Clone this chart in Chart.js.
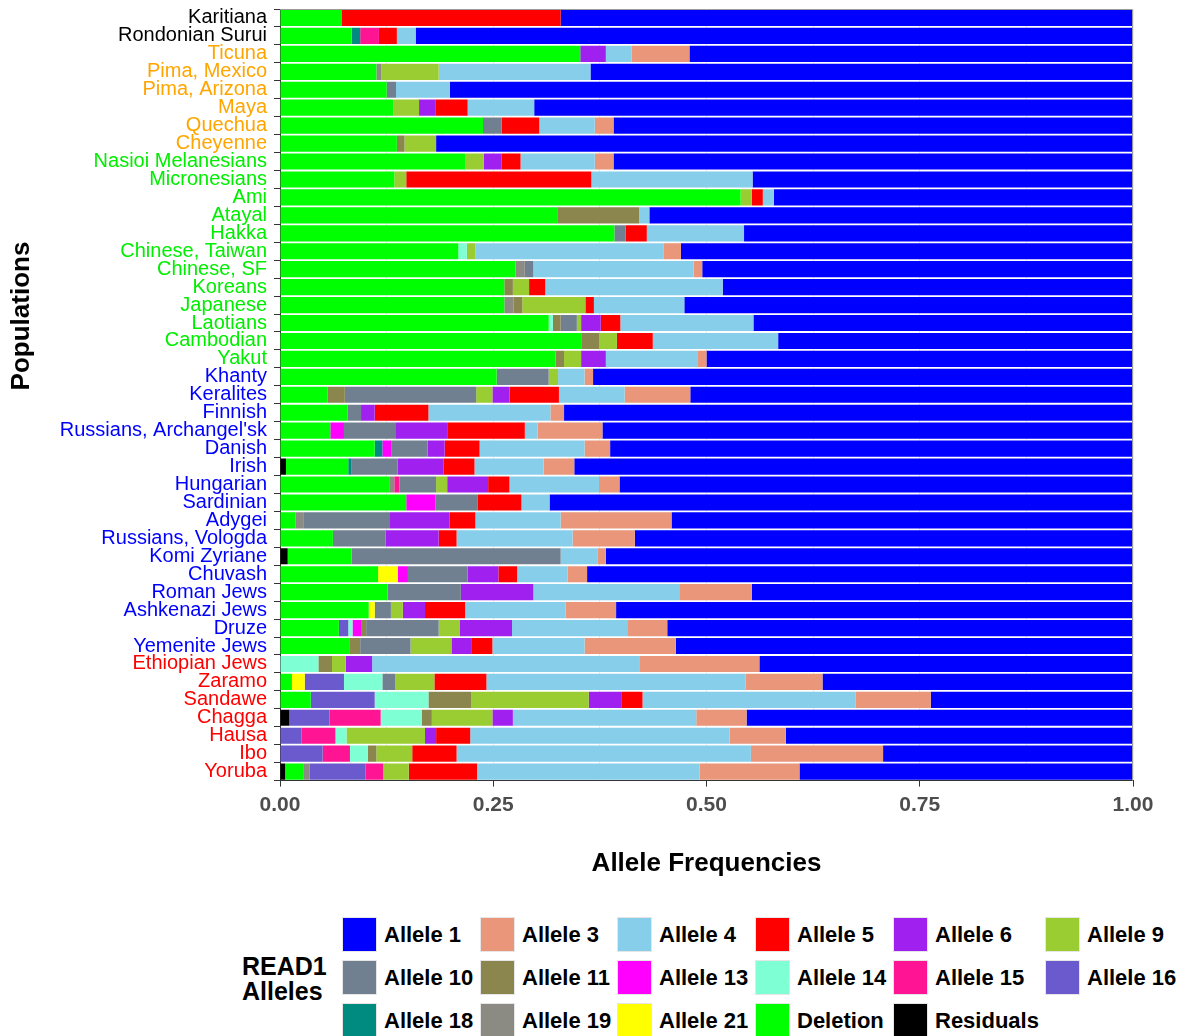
<!DOCTYPE html>
<html>
<head>
<meta charset="utf-8">
<script src="https://cdn.jsdelivr.net/npm/chart.js@4"></script>
<style>
	body { margin: 0; background: #fff; font-family: 'Liberation Sans', Arial, sans-serif; }
	#wrap { position: relative; width: 1180px; height: 1036px; overflow: hidden; }
	#chart { position: absolute; left: 0; top: 0; }
	#legendTitle { position: absolute; left: 242px; top: 954px; font-weight: bold; font-size: 25px; line-height: 25px; color: #000; }
	#legend { position: absolute; left: 342px; top: 917px; display: grid;
		grid-template-columns: 138px 137px 138px 138px 152px 135px; grid-auto-rows: 43px; }
	.item { display: flex; align-items: center; height: 35px; white-space: nowrap; }
	.box { width: 33px; height: 33px; border: 1px solid #e6e6e6; margin-right: 7px; flex: none; }
	.lbl { font-weight: bold; font-size: 22px; color: #000; }
</style>
</head>
<body>
<div id="wrap">
	<canvas id="chart" width="1180" height="879"></canvas>
	<div id="legendTitle">READ1<br>Alleles</div>
	<div id="legend"></div>
</div>
<script>
// Populations, top to bottom
let populations = [
	'Karitiana', 'Rondonian Surui', 'Ticuna', 'Pima, Mexico', 'Pima, Arizona', 'Maya', 'Quechua', 'Cheyenne',
	'Nasioi Melanesians', 'Micronesians', 'Ami', 'Atayal', 'Hakka', 'Chinese, Taiwan', 'Chinese, SF', 'Koreans',
	'Japanese', 'Laotians', 'Cambodian', 'Yakut', 'Khanty', 'Keralites', 'Finnish', "Russians, Archangel'sk",
	'Danish', 'Irish', 'Hungarian', 'Sardinian', 'Adygei', 'Russians, Vologda', 'Komi Zyriane', 'Chuvash',
	'Roman Jews', 'Ashkenazi Jews', 'Druze', 'Yemenite Jews', 'Ethiopian Jews', 'Zaramo', 'Sandawe', 'Chagga',
	'Hausa', 'Ibo', 'Yoruba'
];

// Region of each population (label colour)
let regions = [
	'other', 'other', 'america', 'america', 'america', 'america', 'america', 'america',
	'pacific', 'pacific', 'pacific', 'pacific', 'pacific', 'pacific', 'pacific', 'pacific',
	'pacific', 'pacific', 'pacific', 'pacific', 'europe', 'europe', 'europe', 'europe',
	'europe', 'europe', 'europe', 'europe', 'europe', 'europe', 'europe', 'europe',
	'europe', 'europe', 'europe', 'europe', 'africa', 'africa', 'africa', 'africa',
	'africa', 'africa', 'africa'
];

// Allele frequencies, one value per population
let residuals = [0,0,0,0,0,0,0,0,0,0, 0,0,0,0,0,0,0,0,0,0, 0,0,0,0,0,0.007,0,0,0,0, 0.009,0,0,0,0,0,0,0,0,0.011, 0,0,0.006];
let deletion = [0.072,0.084,0.352,0.113,0.125,0.133,0.238,0.137,0.217,0.134, 0.540,0.325,0.392,0.209,0.276,0.263,0.263,0.315,0.354,0.323, 0.254,0.056,0.079,0.059,0.111,0.073,0.128,0.148,0.018,0.062, 0.075,0.115,0.126,0.104,0.069,0.082,0,0.014,0.036,0, 0,0,0.022];
let allele21 = [0,0,0,0,0,0,0,0,0,0, 0,0,0,0,0,0,0,0,0,0, 0,0,0,0,0,0,0,0,0,0, 0,0.023,0,0.007,0,0,0,0.015,0,0, 0,0,0];
let allele19 = [0,0,0,0.006,0,0,0,0,0,0, 0,0,0,0,0.011,0,0.011,0,0,0, 0,0,0,0,0,0,0.006,0,0.010,0, 0,0,0,0,0,0,0,0,0,0, 0,0,0.007];
let allele18 = [0,0.010,0,0,0,0,0,0,0,0, 0,0,0,0,0,0,0,0,0,0, 0,0,0,0,0.009,0.004,0,0,0,0, 0,0,0,0,0,0,0,0,0,0, 0,0,0];
let allele16 = [0,0,0,0,0,0,0,0,0,0, 0,0,0,0,0,0,0,0,0,0, 0,0,0,0,0,0,0,0,0,0, 0,0,0,0,0.011,0,0,0.046,0.075,0.047, 0.025,0.050,0.065];
let allele15 = [0,0.022,0,0,0,0,0,0,0,0, 0,0,0,0,0,0,0,0,0,0, 0,0,0,0,0,0,0.006,0,0,0, 0,0,0,0,0,0,0,0,0,0.060, 0.040,0.032,0.021];
let allele14 = [0,0,0,0,0,0,0,0,0,0, 0,0,0,0.010,0,0,0,0.005,0,0, 0,0,0,0,0,0,0,0,0,0, 0,0,0,0,0.005,0,0.045,0.045,0.063,0.048, 0.013,0.021,0];
let allele13 = [0,0,0,0,0,0,0,0,0,0, 0,0,0,0,0,0,0,0,0,0, 0,0,0,0.016,0.011,0,0,0.034,0,0, 0,0.012,0,0,0.010,0,0,0,0,0, 0,0,0];
let allele11 = [0,0,0,0,0,0,0,0.009,0,0, 0,0.096,0,0,0,0.010,0.010,0.009,0.020,0.010, 0,0.020,0,0,0,0,0,0,0,0, 0,0,0,0,0.006,0.012,0.016,0,0.050,0.012, 0,0.010,0];
let allele10 = [0,0,0,0,0.011,0,0.022,0,0,0, 0,0,0.013,0,0.010,0,0,0.019,0,0, 0.061,0.154,0.016,0.061,0.042,0.054,0.043,0.050,0.100,0.062, 0.245,0.070,0.086,0.019,0.085,0.059,0,0.015,0,0, 0,0,0];
let allele9 = [0,0,0,0.067,0,0.030,0,0.037,0.022,0.014, 0.013,0,0,0.010,0,0.019,0.074,0.005,0.021,0.020, 0.011,0.019,0,0,0,0,0.013,0,0,0, 0,0,0,0.014,0.025,0.048,0.016,0.046,0.138,0.071, 0.092,0.042,0.030];
let allele6 = [0,0,0.030,0,0,0.019,0,0,0.021,0, 0,0,0,0,0,0,0,0.023,0,0.029, 0,0.020,0.016,0.060,0.020,0.054,0.048,0,0.071,0.062, 0,0.036,0.085,0.026,0.061,0.024,0.031,0,0.038,0.024, 0.013,0,0];
let allele5 = [0.257,0.021,0,0,0,0.038,0.044,0,0.022,0.217, 0.013,0,0.025,0,0,0.019,0.010,0.023,0.042,0, 0,0.058,0.063,0.091,0.041,0.036,0.025,0.051,0.030,0.021, 0,0.022,0,0.047,0,0.024,0,0.061,0.025,0, 0.040,0.052,0.080];
let allele4 = [0,0.022,0.030,0.178,0.063,0.078,0.065,0,0.087,0.189, 0.013,0.012,0.114,0.221,0.188,0.208,0.106,0.156,0.147,0.108, 0.031,0.077,0.143,0.015,0.123,0.081,0.105,0.033,0.100,0.136, 0.043,0.059,0.171,0.118,0.136,0.108,0.314,0.304,0.250,0.215, 0.304,0.345,0.261];
let allele3 = [0,0,0.068,0,0,0,0.022,0,0.022,0, 0,0,0,0.020,0.010,0,0,0,0,0.010, 0.010,0.077,0.016,0.076,0.030,0.036,0.024,0,0.130,0.073, 0.010,0.023,0.085,0.059,0.046,0.107,0.140,0.090,0.088,0.059, 0.066,0.155,0.117];
let allele1 = [0.671,0.841,0.520,0.636,0.801,0.702,0.609,0.817,0.609,0.446, 0.421,0.567,0.456,0.530,0.505,0.481,0.526,0.445,0.416,0.500, 0.633,0.519,0.667,0.622,0.613,0.655,0.602,0.684,0.541,0.584, 0.618,0.640,0.447,0.606,0.546,0.536,0.438,0.364,0.237,0.453, 0.407,0.293,0.391];

// x axis ticks
let xTicks = [0, 0.25, 0.5, 0.75, 1];

// Stacking order, left to right
let series = [
	{ label: 'Residuals', data: residuals, color: '#000000' },
	{ label: 'Deletion', data: deletion, color: '#00FF00' },
	{ label: 'Allele 21', data: allele21, color: '#FFFF00' },
	{ label: 'Allele 19', data: allele19, color: '#8B8B83' },
	{ label: 'Allele 18', data: allele18, color: '#008B80' },
	{ label: 'Allele 16', data: allele16, color: '#6A5ACD' },
	{ label: 'Allele 15', data: allele15, color: '#FF1493' },
	{ label: 'Allele 14', data: allele14, color: '#7FFFD4' },
	{ label: 'Allele 13', data: allele13, color: '#FF00FF' },
	{ label: 'Allele 11', data: allele11, color: '#8B864E' },
	{ label: 'Allele 10', data: allele10, color: '#708090' },
	{ label: 'Allele 9', data: allele9, color: '#9ACD32' },
	{ label: 'Allele 6', data: allele6, color: '#A020F0' },
	{ label: 'Allele 5', data: allele5, color: '#FF0000' },
	{ label: 'Allele 4', data: allele4, color: '#87CEEB' },
	{ label: 'Allele 3', data: allele3, color: '#E9967A' },
	{ label: 'Allele 1', data: allele1, color: '#0000FF' },
];

let regionColors = { other: '#000000', america: '#FFA500', pacific: '#00EE00', europe: '#0000FF', africa: '#FF0000' };

const FONT = "'Liberation Sans', Arial, sans-serif";

// Panel border + y title
let extras = {
	id: 'extras',
	afterDraw(chart) {
		let { ctx, chartArea: a } = chart;
		ctx.save();
		ctx.strokeStyle = '#9a9a9a';
		ctx.lineWidth = 1;
		ctx.beginPath();
		ctx.moveTo(a.left, a.top + 0.5);
		ctx.lineTo(a.right - 0.5, a.top + 0.5);
		ctx.lineTo(a.right - 0.5, a.bottom);
		ctx.stroke();

		ctx.translate(22, 316);
		ctx.rotate(-Math.PI / 2);
		ctx.fillStyle = '#000';
		ctx.font = 'bold 26px ' + FONT;
		ctx.textAlign = 'center';
		ctx.textBaseline = 'middle';
		ctx.fillText('Populations', 0, 0);
		ctx.restore();
	}
};

let chart = new Chart(document.querySelector('#chart'), {
	type: 'bar',
	data: {
		labels: populations,
		datasets: series.map(s => ({
			label: s.label,
			data: s.data,
			backgroundColor: s.color,
			borderWidth: 0,
			barPercentage: 0.9,
			categoryPercentage: 1,
		}))
	},
	options: {
		indexAxis: 'y',
		responsive: false,
		animation: false,
		layout: { padding: { top: 9, right: 47, left: 0, bottom: 0 } },
		plugins: {
			legend: { display: false },
			tooltip: { enabled: false },
		},
		scales: {
			x: {
				stacked: true,
				min: 0,
				max: 1,
				afterBuildTicks: s => { s.ticks = []; for (let i = 0; i <= 8; i++) s.ticks.push({ value: i / 8 }); },
				ticks: {
					callback: (v, i) => i % 2 ? '' : xTicks[i / 2].toFixed(2),
					color: '#4D4D4D',
					font: { family: FONT, size: 21, weight: 'bold' },
					padding: 6,
					maxRotation: 0,
				},
				grid: {
					color: '#EBEBEB',
					tickColor: ctx => ctx.index % 2 ? 'rgba(0,0,0,0)' : '#333333',
					tickLength: 6,
				},
				border: { color: '#333333' },
				title: {
					display: true,
					text: 'Allele Frequencies',
					color: '#000',
					font: { family: FONT, size: 26, weight: 'bold' },
					padding: { top: 24, bottom: 0 },
				},
			},
			y: {
				stacked: true,
				// fixed axis width, no extra room for the end labels
				afterFit: s => { s.width = 280; s.paddingTop = 0; s.paddingBottom = 0; },
				ticks: {
					autoSkip: false,
					color: ctx => regionColors[regions[ctx.index]],
					font: { family: FONT, size: 20 },
					padding: 7,
				},
				grid: { drawOnChartArea: false, tickColor: '#333333', tickLength: 6 },
				border: { color: '#333333' },
			},
		},
	},
	plugins: [extras],
});

// HTML legend, in reverse stacking order
let legend = document.querySelector('#legend');
for (let ds of chart.data.datasets.slice().reverse()) {
	let item = document.createElement('div');
	item.className = 'item';
	item.innerHTML = `<span class="box" style="background:${ds.backgroundColor}"></span><span class="lbl">${ds.label}</span>`;
	legend.appendChild(item);
}
</script>
</body>
</html>
